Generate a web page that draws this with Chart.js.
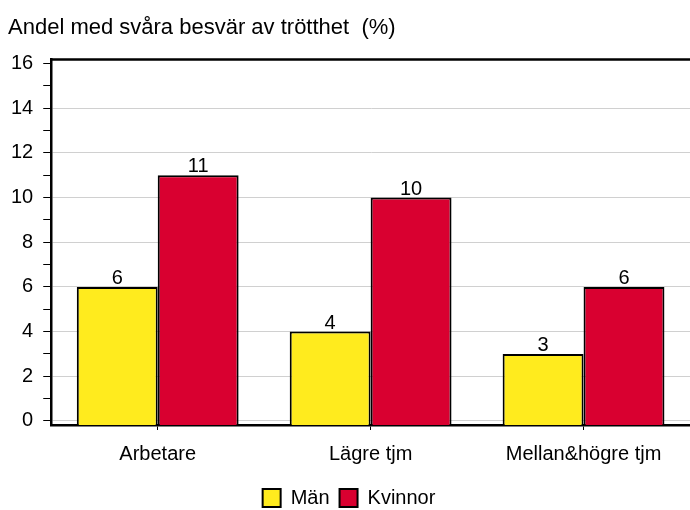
<!DOCTYPE html>
<html><head><meta charset="utf-8">
<script src="https://cdn.jsdelivr.net/npm/chart.js@4/dist/chart.umd.min.js"></script>
<style>html,body{margin:0;padding:0;background:#fff}#wrap{width:690px;height:510px}</style>
</head><body><div id="wrap"><canvas id="c" width="690" height="510"></canvas></div>
<script>
const categories = ["Arbetare", "Lägre tjm", "Mellan&högre tjm"];
const man = [6, 4, 3];
const kvinnor = [11, 10, 6];
const yTicks = [0,1,2,3,4,5,6,7,8,9,10,11,12,13,14,15,16];
const titleText = "Andel med svåra besvär av trötthet  (%)";
const FONT = "'Liberation Sans', Arial, sans-serif";
const yMin = -0.18;
const yMax = 16.18;

const labelsPlugin = {
  id: 'vals',
  afterDatasetsDraw(chart) {
    const ctx = chart.ctx;
    ctx.save();
    ctx.font = "20px " + FONT;
    ctx.fillStyle = "#000";
    ctx.textAlign = "center";
    ctx.textBaseline = "alphabetic";
    chart.data.datasets.forEach((ds, i) => {
      chart.getDatasetMeta(i).data.forEach((bar, j) => {
        ctx.fillText(String(ds.data[j]), bar.x, bar.y - 3);
      });
    });
    ctx.restore();
  }
};

const framePlugin = {
  id: 'frame',
  afterDraw(chart) {
    const a = chart.chartArea, ctx = chart.ctx;
    ctx.save();
    ctx.strokeStyle = "#000";
    ctx.lineWidth = 2.5;
    ctx.beginPath();
    ctx.moveTo(a.left - 1, a.top);
    ctx.lineTo(a.right, a.top);
    ctx.stroke();
    ctx.restore();
  }
};

new Chart(document.getElementById('c'), {
  type: 'bar',
  data: {
    labels: categories,
    datasets: [
      { label: "Män", data: man, backgroundColor: "#FFEB1E", borderColor: "#000", borderWidth: 2, base: yMin, borderSkipped: 'bottom' },
      { label: "Kvinnor", data: kvinnor, backgroundColor: "#D90030", borderColor: "#000", borderWidth: 2, base: yMin, borderSkipped: 'bottom' }
    ]
  },
  options: {
    responsive: false,
    animation: false,
    devicePixelRatio: 1,
    layout: { padding: { left: 8, right: 0, top: 0, bottom: -8 } },
    datasets: { bar: { categoryPercentage: 0.76, barPercentage: 1.0 } },
    scales: {
      x: {
        grid: { display: true, drawOnChartArea: false, offset: false, tickLength: 5, tickColor: "#000", tickWidth: 1 },
        border: { display: true, color: "#000", width: 2.5 },
        ticks: { color: "#000", font: { family: FONT, size: 20, lineHeight: 1.0 }, padding: 14 }
      },
      y: {
        min: yMin, max: yMax,
        afterFit(axis) { axis.width -= 7; },
        afterBuildTicks(axis) { axis.ticks = yTicks.map(v => ({ value: v })); },
        grid: {
          color: (c) => {
            const v = c.tick ? c.tick.value : null;
            if (v === 16) return "rgba(0,0,0,0)";
            return (v !== null && v % 2 === 0) ? "#d0d0d0" : "rgba(0,0,0,0)";
          },
          lineWidth: 1,
          tickColor: "#000",
          tickLength: 8,
          tickWidth: 1
        },
        border: { display: true, color: "#000", width: 2.5 },
        ticks: {
          color: "#000",
          font: { family: FONT, size: 20 },
          padding: 10,
          autoSkip: false,
          callback: (v) => (v % 2 === 0 ? String(v) : "")
        }
      }
    },
    plugins: {
      title: {
        display: true, text: titleText, align: 'start', color: "#000",
        font: { family: FONT, size: 22, weight: 'normal' },
        padding: { top: 15, bottom: 18 }
      },
      legend: {
        position: 'bottom',
        labels: {
          color: "#000", font: { family: FONT, size: 20 },
          boxWidth: 18, boxHeight: 18, padding: 10
        }
      },
      tooltip: { enabled: false }
    }
  },
  plugins: [labelsPlugin, framePlugin]
});
</script></body></html>
